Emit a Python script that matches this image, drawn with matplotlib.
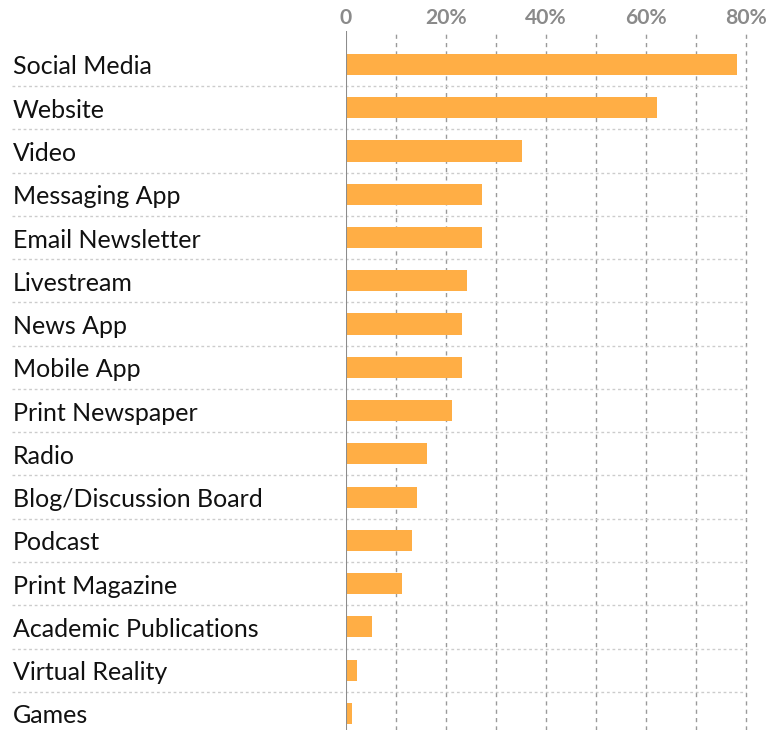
import matplotlib
matplotlib.use("Agg")
import matplotlib.pyplot as plt
import numpy as np

categories = ["Social Media", "Website", "Video", "Messaging App", "Email Newsletter",
              "Livestream", "News App", "Mobile App", "Print Newspaper", "Radio",
              "Blog/Discussion Board", "Podcast", "Print Magazine",
              "Academic Publications", "Virtual Reality", "Games"]
values = [78.1, 62.2, 35.2, 27.2, 27.2, 24.2, 23.2, 23.2, 21.2, 16.2, 14.2, 13.2,
          11.1, 5.2, 2.2, 1.2]
tick_values = [0, 20, 40, 60, 80]
tick_labels = ["0", "20%", "40%", "60%", "80%"]

W, H = 772, 730
fig = plt.figure(figsize=(W / 100, H / 100), dpi=100)
left_px, right_px, top_px, bottom_px = 346, 771, 31, 730
ax = fig.add_axes([left_px / W, 1 - bottom_px / H, (right_px - left_px) / W,
                   (bottom_px - top_px) / H])

y = np.arange(len(categories))
row_px = 43.26
first_px = 64.5
ax.set_xlim(0, (right_px - left_px) / 5)
ax.set_ylim((bottom_px - first_px) / row_px, -(first_px - top_px) / row_px)

# gridlines
for v in range(10, 81, 10):
    ax.axvline(v, color="#9a9a9a", lw=1.0, ls=(0, (3, 3)), zorder=1)
for i in range(len(categories) - 1):
    ax.hlines(i + 0.5, (12 - left_px) / 5, 80, colors="#cccccc", lw=1.0,
              linestyles=(0, (2, 2)), clip_on=False, zorder=1)

ax.barh(y, values, height=0.49, color="#FFAE45", zorder=2)
ax.axvline(0, color="#8c8c8c", lw=1.5, zorder=3)

for spine in ax.spines.values():
    spine.set_visible(False)

ax.xaxis.tick_top()
ax.set_xticks(tick_values)
ax.set_xticklabels(tick_labels, fontfamily="Lato", fontweight="bold",
                   fontsize=15.2, color="#8a8a8a")
ax.tick_params(axis="x", length=0, pad=2.5)
ax.set_yticks([])

for yi, cat in zip(y, categories):
    ax.text((13 - left_px) / 5, yi + 2.5 / row_px, cat, ha="left", va="center",
            fontfamily="Lato", fontsize=18, color="#111111")

fig.savefig("out.png", dpi=100)
